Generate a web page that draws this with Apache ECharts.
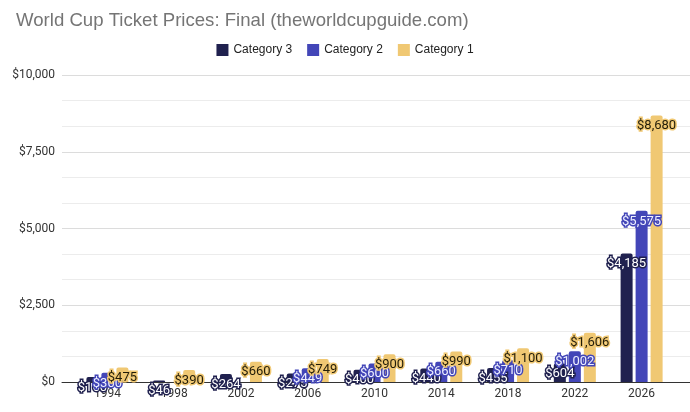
<!DOCTYPE html>
<html>
<head>
<meta charset="utf-8">
<script src="https://cdn.jsdelivr.net/npm/echarts@6/dist/echarts.min.js"></script>
<style>
  html, body { margin: 0; padding: 0; background: #fff; }
  #chart { width: 690px; height: 412px; }
</style>
</head>
<body>
<div id="chart"></div>
<script>
// years on the x axis
var years = ['1994', '1998', '2002', '2006', '2010', '2014', '2018', '2022', '2026'];
// final ticket prices (USD)
var cat3 = [160, 46, 264, 275, 400, 440, 455, 604, 4185];
var cat2 = [300, null, null, 449, 600, 660, 710, 1002, 5575];
var cat1 = [475, 390, 660, 749, 900, 990, 1100, 1606, 8680];
var yTicks = [0, 2500, 5000, 7500, 10000];

var colors = { c3: '#20214f', c2: '#4346b8', c1: '#f0c873' };

function money(v) {
  return '$' + Math.round(v).toString().replace(/\B(?=(\d{3})+(?!\d))/g, ',');
}

// bar series, labels sit inside the top of each bar
function barSeries(name, data, color, textColor) {
  return {
    name: name,
    type: 'bar',
    xAxisIndex: 1,
    yAxisIndex: 1,
    barWidth: 12,
    barGap: '25%',
    itemStyle: { color: color, borderRadius: [2, 2, 0, 0] },
    label: {
      show: true,
      position: 'insideTop',
      distance: 4,
      fontFamily: 'Roboto',
      fontSize: 13,
      color: textColor,
      textBorderColor: color,
      textBorderWidth: 3,
      formatter: function (p) { return money(p.value); }
    },
    data: data
  };
}

var myChart = echarts.init(document.getElementById('chart'));

var option = {
  animation: false,
  backgroundColor: '#fff',
  title: {
    text: 'World Cup Ticket Prices: Final (theworldcupguide.com)',
    left: 11,
    top: 6,
    textStyle: {
      fontFamily: 'Liberation Sans',
      fontSize: 18.6,
      fontWeight: 'normal',
      color: '#757575'
    }
  },
  legend: {
    top: 39,
    left: 'center',
    itemWidth: 12,
    itemHeight: 12,
    itemGap: 15,
    icon: 'rect',
    textStyle: { fontFamily: 'Liberation Sans', fontSize: 12, color: '#222' },
    data: ['Category 3', 'Category 2', 'Category 1']
  },
  grid: [
    { left: 62, right: 0, top: 75, bottom: 30 },
    { left: 74, right: 15, top: 75, bottom: 30 }
  ],
  xAxis: [
    {
      gridIndex: 0,
      type: 'category',
      data: [''],
      axisLine: { lineStyle: { color: '#333', width: 1 } },
      axisTick: { show: false },
      axisLabel: { show: false }
    },
    {
      gridIndex: 1,
      type: 'category',
      data: years,
      axisLine: { show: false },
      axisTick: { show: false },
      axisLabel: {
        margin: 6,
        fontFamily: 'Roboto',
        fontSize: 12,
        color: '#333'
      }
    }
  ],
  yAxis: [
    {
      gridIndex: 0,
      type: 'value',
      min: yTicks[0],
      max: yTicks[yTicks.length - 1],
      interval: 2500,
      axisLine: { show: false },
      axisTick: { show: false },
      axisLabel: {
        margin: 7,
        fontFamily: 'Roboto',
        fontSize: 12,
        color: '#333',
        formatter: function (v) { return money(v); }
      },
      splitLine: { lineStyle: { color: '#dcdcdc' } },
      minorTick: { show: false, splitNumber: 3 },
      minorSplitLine: { show: true, lineStyle: { color: '#ececec' } }
    },
    {
      gridIndex: 1,
      type: 'value',
      min: 0,
      max: 10000,
      show: false
    }
  ],
  series: [
    barSeries('Category 3', cat3, colors.c3, '#ffffff'),
    barSeries('Category 2', cat2, colors.c2, '#eef0ff'),
    barSeries('Category 1', cat1, colors.c1, '#221c08')
  ]
};
myChart.setOption(option);
</script>
</body>
</html>
